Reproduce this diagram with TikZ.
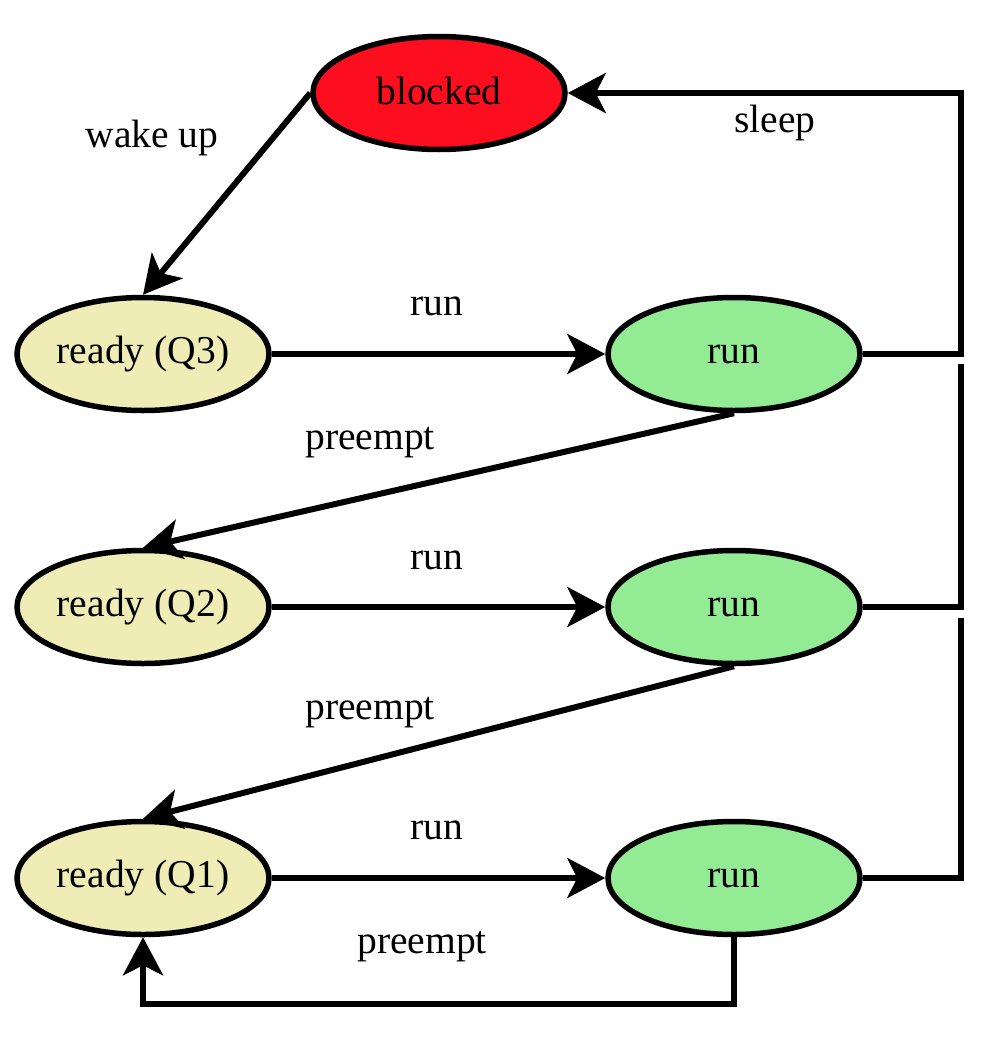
\documentclass[tikz,border=0pt]{standalone}
\usepackage{fontspec}
\setmainfont{Liberation Serif}
\newfontfamily\diagfont{Liberation Serif}
\usetikzlibrary{shapes.geometric,arrows.meta}
\definecolor{blockedred}{RGB}{252,14,30}
\definecolor{readyyellow}{RGB}{239,237,181}
\definecolor{rungreen}{RGB}{147,236,147}

\begin{document}
\begin{tikzpicture}[
        state/.style={ellipse, draw, line width=0.11cm, minimum width=5.04cm,
            minimum height=2.26cm, inner sep=0pt, font=\diagfont\fontsize{22.5}{27}\selectfont},
        ready/.style={state, fill=readyyellow},
        running/.style={state, fill=rungreen},
        line/.style={line width=0.12cm},
        arr/.style={line, -{Stealth[length=0.76cm, width=0.8cm, inset=0.2cm]}},
        lbl/.style={font=\diagfont\fontsize{22.5}{27}\selectfont}
    ]
        \useasboundingbox (0,0) rectangle (19.96,-20.84);

        \node[state, fill=blockedred] (blocked) at (8.78,-1.86) {\raisebox{0.08cm}{blocked}};
        \node[ready] (readyQ3) at (2.86,-7.08) {ready (Q3)};
        \node[ready] (readyQ2) at (2.86,-12.14) {ready (Q2)};
        \node[ready] (readyQ1) at (2.86,-17.56) {ready (Q1)};
        \node[running] (runQ3) at (14.68,-7.08) {run};
        \node[running] (runQ2) at (14.68,-12.14) {run};
        \node[running] (runQ1) at (14.68,-17.56) {run};

        \coordinate (gapQ3) at (19.22,-7.28);
        \coordinate (gapQ2) at (19.22,-12.36);

        \draw[arr] (blocked.west) -- (readyQ3.north);
        \draw[arr] (runQ3.east) -- ++(1.96,0) |- (blocked.east);
        \draw[line] (runQ2.east) -| (gapQ3);
        \draw[line] (runQ1.east) -| (gapQ2);

        \draw[arr] (readyQ3.east) -- (runQ3.west);
        \draw[arr] (readyQ2.east) -- (runQ2.west);
        \draw[arr] (readyQ1.east) -- (runQ1.west);

        \draw[arr] (runQ3.south) -- (readyQ2.north);
        \draw[arr] (runQ2.south) -- (readyQ1.north);
        \draw[arr] (runQ1.south) -- ++(0,-1.34) -| (readyQ1.south);

        \node[lbl] (wakeup) at (3.04,-2.76) {wake up};
        \node[lbl] (sleep) at (15.5,-2.46) {sleep};
        \node[lbl] (runlblQ3) at (8.74,-6.12) {run};
        \node[lbl] (runlblQ2) at (8.74,-11.2) {run};
        \node[lbl] (runlblQ1) at (8.74,-16.6) {run};
        \node[lbl] (preemptQ3) at (7.4,-8.86) {preempt};
        \node[lbl] (preemptQ2) at (7.4,-14.26) {preempt};
        \node[lbl] (preemptQ1) at (8.44,-18.94) {preempt};
    \end{tikzpicture}
\end{document}
